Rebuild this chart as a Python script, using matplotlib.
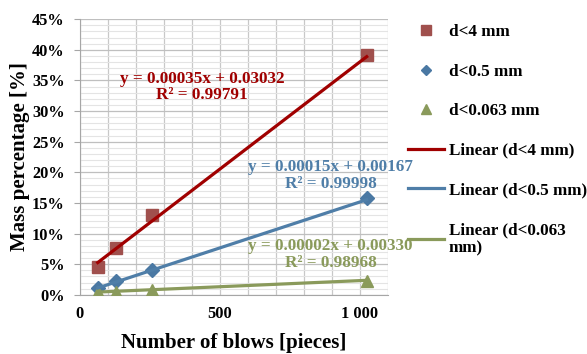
import numpy as np
import matplotlib.pyplot as plt
from matplotlib.ticker import MultipleLocator
from matplotlib.lines import Line2D

plt.rcParams['font.family'] = ['Liberation Serif', 'DejaVu Serif']
plt.rcParams['font.weight'] = 'bold'

# measured mass fractions after a given number of blows
blows = [64, 128, 256, 1024]
d4 = [0.046, 0.077, 0.130, 0.391]
d05 = [0.012, 0.022, 0.041, 0.158]
d0063 = [0.004, 0.005, 0.008, 0.023]

# linear trendline coefficients (slope, intercept) and R^2
fits = {
    'd<4 mm': (0.00035, 0.03032, 0.99791),
    'd<0.5 mm': (0.00015, 0.00167, 0.99998),
    'd<0.063 mm': (0.00002, 0.00330, 0.98968),
}

x_ticks = [0, 500, 1000]
x_tick_labels = ['0', '500', '1 000']
y_ticks = [0, 0.05, 0.10, 0.15, 0.20, 0.25, 0.30, 0.35, 0.40, 0.45]
y_tick_labels = ['0%', '5%', '10%', '15%', '20%', '25%', '30%', '35%', '40%', '45%']

marker_cols = ['#A0504D', '#4A78A3', '#8A9A5B']
line_cols = ['#A00000', '#4F7EA8', '#8A9A5B']
markers = ['s', 'D', '^']
msizes = [9, 7, 9]

fig = plt.figure(figsize=(5.87, 3.54), dpi=100)
ax = fig.add_axes([0.136, 0.167, 0.525, 0.779])

series = [d4, d05, d0063]
names = list(fits.keys())
xs = np.array([blows[0], blows[-1]])
for i, (name, ys) in enumerate(zip(names, series)):
    a, b, r2 = fits[name]
    ax.plot(blows, ys, linestyle='none', marker=markers[i], ms=msizes[i],
            color=marker_cols[i], zorder=3)
    ax.plot(xs, a * xs + b, color=line_cols[i], lw=2.3, zorder=4)

# trendline equations
eq_pos = [(436, 0.339), (895, 0.195), (895, 0.066)]
for i, name in enumerate(names):
    a, b, r2 = fits[name]
    txt = 'y = %.5fx + %.5f\nR² = %.5f' % (a, b, r2)
    ax.text(eq_pos[i][0], eq_pos[i][1], txt, ha='center', va='center',
            ma='center', color=line_cols[i],
            fontsize=12.3, fontweight='bold', linespacing=1.05, zorder=5)

ax.set_xlim(0, 1100)
ax.set_ylim(0, 0.45)
ax.set_xticks(x_ticks)
ax.set_xticklabels(x_tick_labels)
ax.set_yticks(y_ticks)
ax.set_yticklabels(y_tick_labels)
ax.xaxis.set_minor_locator(MultipleLocator(100))
ax.yaxis.set_minor_locator(MultipleLocator(0.01))
ax.grid(which='major', axis='y', color='#BFBFBF', lw=0.9)
ax.grid(which='minor', axis='y', color='#E4E4E4', lw=0.8)
ax.grid(which='both', axis='x', color='#C8C8C8', lw=0.9)
ax.set_axisbelow(True)
for s in ['top', 'right']:
    ax.spines[s].set_visible(False)
for s in ['left', 'bottom']:
    ax.spines[s].set_color('#A6A6A6')
ax.tick_params(which='major', direction='out', length=4, color='#A6A6A6',
               labelsize=11.8, pad=7)
ax.tick_params(which='minor', length=0)
ax.tick_params(axis='x', length=0, pad=8)
for lab in ax.get_xticklabels() + ax.get_yticklabels():
    lab.set_fontweight('bold')

ax.set_xlabel('Number of blows [pieces]', fontsize=15, fontweight='bold', labelpad=8)
ax.set_ylabel('Mass percentage [%]', fontsize=15, fontweight='bold', labelpad=1)

handles = [Line2D([], [], linestyle='none', marker=markers[i], ms=msizes[i] * 0.75,
                  color=marker_cols[i]) for i in range(3)]
handles += [Line2D([], [], color=line_cols[i], lw=2.3) for i in range(3)]
labels = names + ['Linear (d<4 mm)', 'Linear (d<0.5 mm)', 'Linear (d<0.063\nmm)']
fig.legend(handles, labels, loc='upper left', bbox_to_anchor=(0.695, 0.932),
           frameon=False, handlelength=2.1, handletextpad=0.3,
           labelspacing=1.38, borderpad=0, borderaxespad=0,
           prop={'weight': 'bold', 'size': 12.3})

fig.savefig('out.png', dpi=100)
